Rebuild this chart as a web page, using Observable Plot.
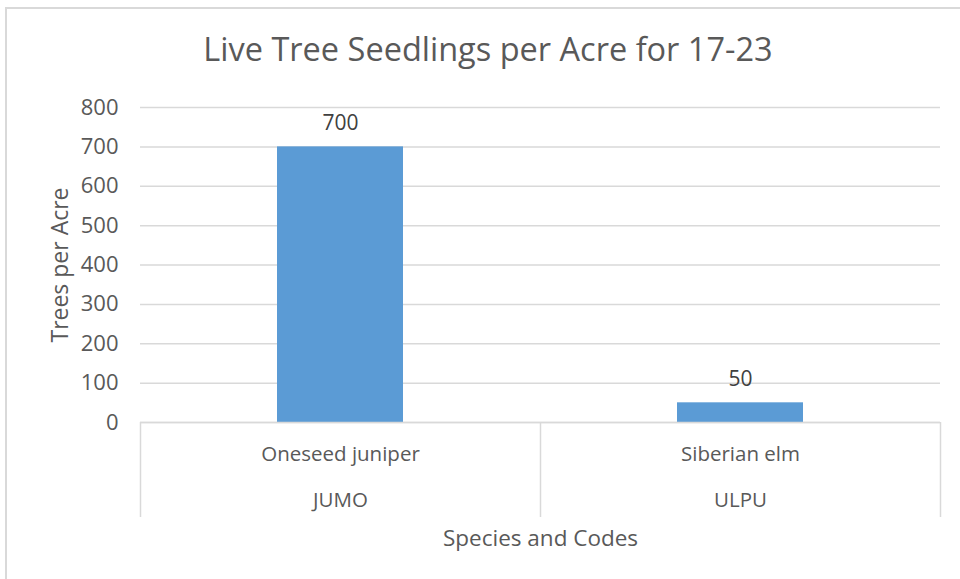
<!DOCTYPE html>
<html>
<head>
<meta charset="utf-8">
<script src="https://cdn.jsdelivr.net/npm/d3@7"></script>
<script src="https://cdn.jsdelivr.net/npm/@observablehq/plot@0.6"></script>
<style>
  html, body { margin: 0; padding: 0; background: #fff; }
  #wrap { position: relative; width: 960px; height: 579px; overflow: hidden; font-family: "Open Sans", sans-serif; }
  #frame { position: absolute; left: 5px; top: 7px; width: 1000px; height: 1000px; border-left: 2px solid #d9d9d9; border-top: 2px solid #d9d9d9; box-sizing: border-box; }
  #title { position: relative; height: 85px; line-height: 1; text-align: center; color: #595959; font-size: 32.5px; padding-left: 16px; box-sizing: border-box; padding-top: 33px; white-space: nowrap; }
  #chart svg { display: block; }
</style>
</head>
<body>
<div id="wrap">
  <div id="frame"></div>
  <div id="title">Live Tree Seedlings per Acre for 17-23</div>
  <div id="chart"></div>
</div>
<script>
const species = ["Oneseed juniper", "Siberian elm"];
const codes = ["JUMO", "ULPU"];
const values = [700, 50];
const yTicks = [0, 100, 200, 300, 400, 500, 600, 700, 800];
const yTitle = "Trees per Acre";
const xTitle = "Species and Codes";

const data = species.map((s, i) => ({species: s, code: codes[i], value: values[i]}));

const W = 960, H = 494, ML = 140, MR = 20, MT = 22, MB = 157;
const halfStep = (W - ML - MR) / species.length / 2;
const grey = "#595959";

const plot = Plot.plot({
  width: W, height: H,
  marginLeft: ML, marginRight: MR, marginTop: MT, marginBottom: MB,
  style: {fontFamily: "'Open Sans', sans-serif", background: "transparent"},
  x: {domain: species, paddingInner: 0.685, paddingOuter: 0.3425, axis: null},
  y: {domain: [0, 800], axis: null},
  marks: [
    Plot.gridY(yTicks, {stroke: "#d9d9d9", strokeOpacity: 1, strokeWidth: 1.5}),
    Plot.axisY(yTicks, {tickSize: 0, tickPadding: 22, fontSize: 22, fill: grey, label: null}),
    Plot.barY(data, {x: "species", y: "value", fill: "#5b9bd5"}),
    Plot.ruleY([0], {stroke: "#d9d9d9", strokeWidth: 1.5}),
    Plot.ruleX(species, {x: d => d, dx: -halfStep, y1: 0, y2: 0, stroke: "#d9d9d9", strokeWidth: 1.5, insetBottom: -95}),
    Plot.ruleX([species[species.length - 1]], {x: d => d, dx: halfStep, y1: 0, y2: 0, stroke: "#d9d9d9", strokeWidth: 1.5, insetBottom: -95}),
    Plot.text(data, {x: "species", y: "value", text: d => String(d.value), dy: -24, fontSize: 21, fill: "#404040"}),
    Plot.text(data, {x: "species", frameAnchor: "bottom", lineAnchor: "middle", text: "species", dy: 32, fontSize: 20.5, fill: grey}),
    Plot.text(data, {x: "species", frameAnchor: "bottom", lineAnchor: "middle", text: "code", dy: 78, fontSize: 20.5, fill: grey}),
    Plot.text([xTitle], {frameAnchor: "bottom", lineAnchor: "middle", text: d => d, dy: 116, fontSize: 22.5, fill: grey}),
    Plot.text([yTitle], {frameAnchor: "left", textAnchor: "middle", lineAnchor: "middle", text: d => d, dx: -80, rotate: -90, fontSize: 23, fill: grey})
  ]
});
document.getElementById("chart").appendChild(plot);
</script>
</body>
</html>
